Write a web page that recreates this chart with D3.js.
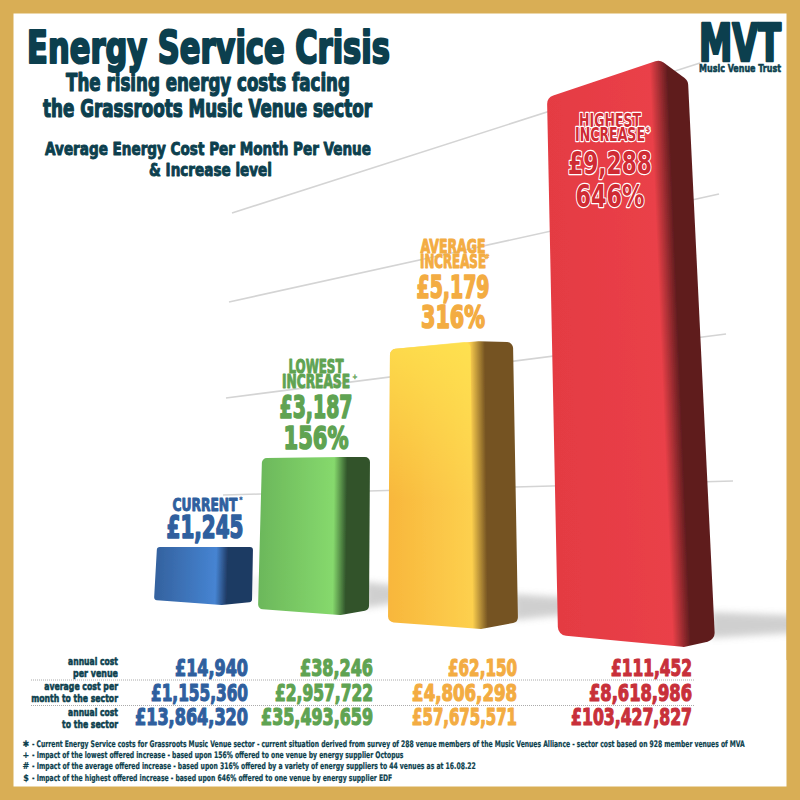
<!DOCTYPE html>
<html lang="en">
<head>
<meta charset="utf-8">
<title>Energy Service Crisis</title>
<script src="https://d3js.org/d3.v7.min.js"></script>
<style>
  html, body { margin: 0; padding: 0; background: #fff; }
  svg { display: block; }
  text { font-family: "DejaVu Sans", sans-serif; font-stretch: condensed; font-weight: 700; }
</style>
</head>
<body>
<div id="chart"></div>
<script>
// values
var categories = ["Current", "Lowest increase", "Average increase", "Highest increase"];
var labelLines = [["CURRENT"], ["LOWEST", "INCREASE"], ["AVERAGE", "INCREASE"], ["HIGHEST", "INCREASE"]];
var labelMarks = ["*", "+", "#", "$"];
var monthlyCost = [1245, 3187, 5179, 9288];
var increasePct = [null, 156, 316, 646];
var annualPerVenue = [14940, 38246, 62150, 111452];
var monthlySector = [1155360, 2957722, 4806298, 8618986];
var annualSector = [13864320, 35493659, 57675571, 103427827];
var rowLabels = [["annual cost", "per venue"], ["average cost per", "month to the sector"], ["annual cost", "to the sector"]];
var footSymbols = ["\u2731", "+", "#", "$"];
var footNotes = [
  "- Current Energy Service costs for Grassroots Music Venue sector - current situation derived from survey of 288 venue members of the Music Venues Alliance - sector cost based on 928 member venues of MVA",
  "- Impact of the lowest offered increase - based upon 156% offered to one venue by energy supplier Octopus",
  "- Impact of the average offered increase - based upon 316% offered by a variety of energy suppliers to 44 venues as at 16.08.22",
  "- Impact of the highest offered increase - based upon 646% offered to one venue by energy supplier EDF"
];
var gridLevels = [0, 1, 2, 3];

// colours per bar: edge, bright, side
var barColors = [
  ["#34629f", "#4684d2", "#1f3a63"],
  ["#6cb85b", "#86d96d", "#30532a"],
  ["#f8b73c", "#fdd04e", "#745222"],
  ["#e43b43", "#ea4048", "#5e1c1e"]
];
var textColors = ["#2f5f9e", "#5fa352", "#f3ac42", "#c8303a"];
var ink = "#0c3f4e";

var W = 800, H = 800;
var fmt = d3.format(",");
var money = function(v) { return "\u00a3" + fmt(v); };

var svg = d3.select("#chart").append("svg").attr("width", W).attr("height", H);
var defs = svg.append("defs");
defs.append("filter").attr("id", "soft").attr("x", "-30%").attr("y", "-60%").attr("width", "160%").attr("height", "220%")
  .append("feGaussianBlur").attr("stdDeviation", 3.5);
defs.append("filter").attr("id", "softline")
  .attr("filterUnits", "userSpaceOnUse").attr("x", 0).attr("y", 0).attr("width", W).attr("height", H)
  .append("feGaussianBlur").attr("stdDeviation", 0.5);
defs.append("filter").attr("id", "edge").attr("x", "-5%").attr("y", "-5%").attr("width", "110%").attr("height", "110%")
  .append("feGaussianBlur").attr("stdDeviation", 0.5);

svg.append("rect").attr("width", W).attr("height", H).attr("fill", "#d9ae55");
svg.append("rect").attr("x", 13.5).attr("y", 13.5).attr("width", 773).attr("height", 773).attr("fill", "#fff");

// fake perspective: each bar stands a little nearer than the last
var idx = [0, 1, 2, 3];
var perSca = function(r) { return d3.scaleLinear().domain(idx).range(r); };
var valueY = d3.scaleLinear().domain([0, 1245]).range([0, 53]);
var depth = perSca([1, 1.113, 1.237, 1.359]);
var baseX = perSca([154, 258, 388, 558]);
var baseW = perSca([98, 111, 130, 157]);
var baseY = perSca([600, 609, 622, 635]);
var leanL = perSca([3, 4, 2, -11]);
var leanR = perSca([1, 1, -5, -27]);
var topRise = perSca([0, 1, 8, 38]);
var endRise = perSca([0, 1, 7, 17]);
var botDrop = perSca([5, 6, 7, 12]);
var endDrop = perSca([2, 1, 0, 5]);
var frontFrac = perSca([0.69, 0.74, 0.72, 0.8]);
var corner = perSca([3, 5, 6, 9]);
var shadowLen = perSca([0, 20, 42, 80]);

// back grid lines
var gridLeftX = d3.scaleLinear().domain([0, 3]).range([223, 232]);
var gridLeftY = perSca([495, 398, 302, 213]);
var gridRightX = perSca([733, 726, 719, 700]);
var gridRightY = perSca([481, 334, 194, 63]);

svg.append("g").selectAll("line").data(gridLevels).join("line")
  .attr("x1", function(d) { return gridLeftX(d); })
  .attr("y1", function(d) { return gridLeftY(d); })
  .attr("x2", function(d) { return gridRightX(d); })
  .attr("y2", function(d) { return gridRightY(d); })
  .attr("stroke", "#d4d4d4")
  .attr("stroke-width", 1.6)
  .attr("filter", "url(#softline)");

function geometry(i) {
  var x = baseX(i), y = baseY(i), w = baseW(i), h = valueY(monthlyCost[i]) * depth(i), f = frontFrac(i);
  var TL = [x + leanL(i), y - h];
  var TR = [x + w + leanR(i), y - h - endRise(i)];
  return {
    BL: [x, y], TL: TL, TR: TR,
    TM: [TL[0] + (TR[0] - TL[0]) * f, y - h - topRise(i)],
    BM: [x + w * f, y + botDrop(i)],
    BR: [x + w, y + endDrop(i)]
  };
}

function rounded(pts, r) {
  var p = d3.path();
  var n = pts.length;
  var a = pts[n - 1], b = pts[0];
  p.moveTo((a[0] + b[0]) / 2, (a[1] + b[1]) / 2);
  pts.forEach(function(c, k) {
    var e = pts[(k + 1) % n];
    p.arcTo(c[0], c[1], e[0], e[1], r);
  });
  p.closePath();
  return p.toString();
}

// ground shadows first so they sit under the bars
svg.append("g").selectAll("path").data(idx).join("path")
  .attr("d", function(i) {
    var g = geometry(i), L = shadowLen(i);
    var p = d3.path();
    p.moveTo(g.BR[0] - 4, g.BR[1] - 28);
    p.lineTo(g.BR[0] + L + 12, g.BR[1] - 24);
    p.lineTo(g.BR[0] + L + 12, g.BR[1] - 8);
    p.lineTo(g.BR[0] - 4, g.BR[1] - 2);
    p.closePath();
    return p.toString();
  })
  .attr("fill", "#8f8f8f")
  .attr("opacity", function(i) { return i === 0 ? 0.08 : 0.42; })
  .attr("filter", "url(#soft)");
svg.append("rect").attr("x", 786.5).attr("y", 560).attr("width", 13.5).attr("height", 100).attr("fill", "#d9ae55");

var bars = svg.append("g");
idx.forEach(function(i) {
  var g = geometry(i);
  // gradient runs across the bar, square to its side edge
  var ex = g.TM[0] - g.BM[0], ey = g.TM[1] - g.BM[1], el = Math.hypot(ex, ey);
  var nx = -ey / el, ny = ex / el;
  if (nx < 0) { nx = -nx; ny = -ny; }
  var p0 = [(g.BL[0] + g.TL[0]) / 2, (g.BL[1] + g.TL[1]) / 2];
  var p1 = [(g.BR[0] + g.TR[0]) / 2, (g.BR[1] + g.TR[1]) / 2];
  var pm = [(g.BM[0] + g.TM[0]) / 2, (g.BM[1] + g.TM[1]) / 2];
  var len = (p1[0] - p0[0]) * nx + (p1[1] - p0[1]) * ny;
  var b = ((pm[0] - p0[0]) * nx + (pm[1] - p0[1]) * ny) / len;
  var c = barColors[i];
  var grad = defs.append("linearGradient").attr("id", "bar" + i)
    .attr("gradientUnits", "userSpaceOnUse")
    .attr("x1", p0[0]).attr("y1", p0[1])
    .attr("x2", p0[0] + nx * len).attr("y2", p0[1] + ny * len);
  [[0, c[0]], [b - 0.07, c[1]], [b + 0.05, c[2]], [1, c[2]]].forEach(function(s) {
    grad.append("stop").attr("offset", s[0]).attr("stop-color", s[1]);
  });
  bars.append("path")
    .attr("d", rounded([g.BL, g.TL, g.TM, g.TR, g.BR, g.BM], corner(i)))
    .attr("fill", "url(#bar" + i + ")")
    .attr("filter", "url(#edge)");
});

// yellow bar gets brighter towards the top
var glow = defs.append("linearGradient").attr("id", "glow").attr("x1", 0).attr("y1", 0).attr("x2", 0).attr("y2", 1);
glow.append("stop").attr("offset", 0).attr("stop-color", "#ffe650").attr("stop-opacity", 0.75);
glow.append("stop").attr("offset", 0.55).attr("stop-color", "#ffe650").attr("stop-opacity", 0);
var gy = geometry(2);
bars.append("path")
  .attr("d", rounded([gy.BL, gy.TL, [gy.TM[0] - 8, gy.TM[1]], [gy.BM[0] - 8, gy.BM[1]]], corner(2)))
  .attr("fill", "url(#glow)");

// squeeze each text to the width it has in the picture
function txt(str, x, y, size, color, anchor, width) {
  var t = svg.append("text")
    .attr("font-size", size)
    .attr("fill", color)
    .attr("stroke", color)
    .attr("stroke-width", 0.05 * size)
    .attr("stroke-linejoin", "round")
    .attr("text-anchor", anchor || "start")
    .text(str);
  var k = width ? width / t.node().getComputedTextLength() : 1;
  t.attr("transform", "translate(" + x + "," + y + ") scale(" + k + ",1)");
  return t;
}

// headings
txt("Energy Service Crisis", 208.5, 63, 44, ink, "middle", 363);
txt("The rising energy costs facing", 208, 91, 24, ink, "middle", 284);
txt("the Grassroots Music Venue sector", 207.5, 117, 24, ink, "middle", 329);
txt("Average Energy Cost Per Month Per Venue", 208, 155, 18, ink, "middle", 326);
txt("& Increase level", 210.5, 176, 18, ink, "middle", 123);

// logo
txt("MVT", 740, 61, 52, ink, "middle", 82);
txt("Music Venue Trust", 740, 72, 11, ink, "middle", 82);

// labels on and above the bars
var labelCx = [205, 316, 453, 610];
var nameY = [[511], [373, 388], [253, 268], [127, 141]];
var nameW = [[65], [55, 68], [65, 66], [62, 70]];
var nameSize = [17, 19, 19, 19];
var costY = [538, 418, 298, 174];
var costW = [77, 73, 73, 84];
var pctY = [null, 449, 328, 207];
var pctW = [null, 65, 64, 69];
var markX = [241, 355, 487, 648];

labelLines.forEach(function(lines, i) {
  var col = textColors[i];
  var items = [];
  lines.forEach(function(s, k) {
    items.push(txt(s, labelCx[i], nameY[i][k], nameSize[i], col, "middle", nameW[i][k]));
  });
  var markRow = nameY[i][lines.length - 1] - 9;
  items.push(txt(labelMarks[i], markX[i], markRow, 7, col, "middle"));
  items.push(txt(money(monthlyCost[i]), labelCx[i], costY[i], 32, col, "middle", costW[i]));
  if (increasePct[i] !== null) {
    items.push(txt(increasePct[i] + "%", labelCx[i], pctY[i], 32, col, "middle", pctW[i]));
  }
  // the red bar's labels sit on the bar, so they get a white outline
  if (i === 3) {
    items.forEach(function(t) {
      t.attr("stroke", "#fff").attr("stroke-width", 2.4).style("paint-order", "stroke").attr("fill", "#cf2b33");
    });
  }
});

// table under the bars
var rowRight = [248, 373, 517, 692];
var rowY = [676, 701, 725];
var rowW = [[73, 73, 69, 81], [97, 98, 105, 103], [113, 112, 105, 121]];
var rowLabelY = [[665, 677], [690, 702], [716, 728]];
var rowLabelW = [[50, 45], [74, 87], [50, 56]];
[annualPerVenue, monthlySector, annualSector].forEach(function(row, r) {
  row.forEach(function(v, i) {
    txt(money(v), rowRight[i], rowY[r], 23, textColors[i], "end", rowW[r][i]);
  });
  rowLabels[r].forEach(function(s, k) {
    txt(s, 118, rowLabelY[r][k], 11, ink, "end", rowLabelW[r][k]);
  });
});
svg.append("g").selectAll("line").data([680, 705.5]).join("line")
  .attr("x1", 31).attr("x2", 695)
  .attr("y1", function(d) { return d; })
  .attr("y2", function(d) { return d; })
  .attr("stroke", "#aaa")
  .attr("stroke-width", 1)
  .attr("stroke-dasharray", "1,1");

// footnotes
var footY = [747, 758, 769, 781];
var footW = [713, 372, 444, 361];
footNotes.forEach(function(s, i) {
  txt(footSymbols[i], 26, footY[i], 9, ink, "middle").attr("stroke-width", 0.2);
  txt(s, 32, footY[i], 9, ink, "start", footW[i]).attr("stroke-width", 0.2);
});
</script>
</body>
</html>
